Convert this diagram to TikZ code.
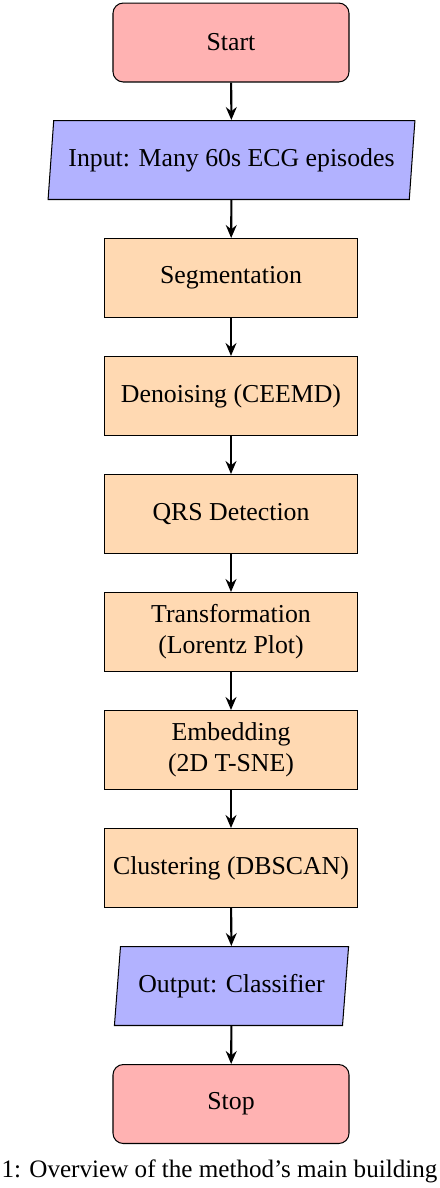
\documentclass[tikz,border=0pt]{standalone}
\usepackage{fontspec}
\usepackage{graphicx}
\setmainfont{Liberation Serif}
\usetikzlibrary{shapes.geometric,arrows.meta}
\tikzset{
  startstop/.style={rectangle, rounded corners=4pt, draw=black, fill=red!30,
    minimum width=91.45pt, minimum height=30.6pt, align=center, inner sep=2pt},
  iobox/.style={trapezium, trapezium left angle=81, trapezium right angle=99,
    trapezium stretches=true, draw=black, fill=blue!30,
    minimum height=30.6pt, align=center, inner sep=2pt},
  procbox/.style={rectangle, draw=black, fill=orange!30,
    minimum width=98.0pt, minimum height=30.6pt, align=center, inner sep=2pt},
  flowarrow/.style={thick, -{Stealth[length=5pt,width=4.2pt]}},
  captext/.style={anchor=base west, inner sep=0pt}
}
\begin{document}
\begin{tikzpicture}[x=0.3875pt, y=-0.3875pt]
\useasboundingbox (0,0) rectangle (440,1188);
\node[startstop] (start) at (231,42.5) {Start};
\node[iobox, minimum width=142.2pt] (in) at (231.5,160) {Input: Many 60s ECG episodes};
\node[procbox] (seg) at (231,278) {Segmentation};
\node[procbox] (den) at (231,396) {Denoising (CEEMD)};
\node[procbox] (qrs) at (231,514) {QRS Detection};
\node[procbox] (tra) at (231,632) {Transformation\\(Lorentz Plot)};
\node[procbox] (emb) at (231,750) {Embedding\\(2D T-SNE)};
\node[procbox] (clu) at (231,868) {Clustering (DBSCAN)};
\node[iobox, minimum width=91.1pt] (out) at (231.5,986) {Output: Classifier};
\node[startstop] (stop) at (231,1104) {Stop};
\draw[flowarrow] (start) -- (in);
\draw[flowarrow] (in) -- (seg);
\draw[flowarrow] (seg) -- (den);
\draw[flowarrow] (den) -- (qrs);
\draw[flowarrow] (qrs) -- (tra);
\draw[flowarrow] (tra) -- (emb);
\draw[flowarrow] (emb) -- (clu);
\draw[flowarrow] (clu) -- (out);
\draw[flowarrow] (out) -- (stop);
\node[captext] (cap) at (1,1177) {\resizebox{168.9pt}{!}{1: Overview of the method’s main building}};
\end{tikzpicture}
\end{document}
